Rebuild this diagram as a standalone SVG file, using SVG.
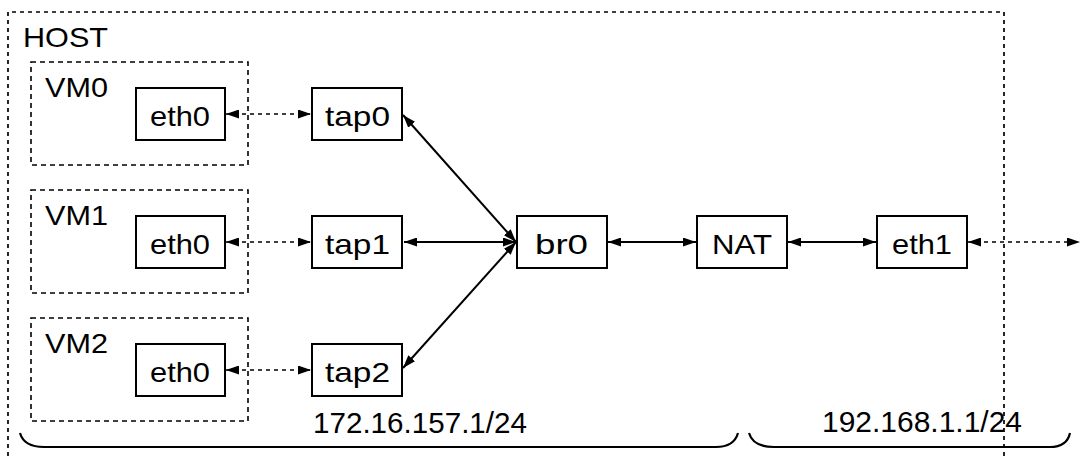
<svg xmlns="http://www.w3.org/2000/svg" width="1090" height="456" viewBox="0 0 1090 456">
<style>
.bg{fill:#fff}
.host{fill:none;stroke:#000;stroke-width:1.7;stroke-dasharray:4 4}
.vm{fill:none;stroke:#000;stroke-width:1.6;stroke-dasharray:5 4}
.box{fill:#fff;stroke:#000;stroke-width:2}
.lbl{font-family:"Liberation Sans",Arial,sans-serif;font-size:28px;fill:#000}
.ctr{text-anchor:middle}
.net{font-family:"Liberation Sans",Arial,sans-serif;font-size:29px;fill:#000}
.ln{fill:none;stroke:#000;stroke-width:2}
.dl{fill:none;stroke:#000;stroke-width:1.7;stroke-dasharray:4 4}
.brace{fill:none;stroke:#000;stroke-width:2.2}
</style>
<defs>
<marker id="ah" viewBox="0 0 13 9" refX="13" refY="4.5" markerWidth="13" markerHeight="9" markerUnits="userSpaceOnUse" orient="auto-start-reverse">
<path d="M0,0 L13,4.5 L0,9 z" fill="#000"/>
</marker>
</defs>
<rect class="bg" x="0" y="0" width="1090" height="456"/>
<g id="host">
<path class="host" d="M8,456 V12 H1004 V456"/>
<text class="lbl" x="23" y="47" textLength="85" lengthAdjust="spacingAndGlyphs">HOST</text>
</g>
<g id="vm0">
<rect class="vm" x="31" y="62" width="217" height="103"/>
<text class="lbl" x="45" y="97" textLength="63" lengthAdjust="spacingAndGlyphs">VM0</text>
</g>
<g id="vm1">
<rect class="vm" x="31" y="190" width="217" height="103"/>
<text class="lbl" x="45" y="225" textLength="63" lengthAdjust="spacingAndGlyphs">VM1</text>
</g>
<g id="vm2">
<rect class="vm" x="31" y="318" width="217" height="103"/>
<text class="lbl" x="45" y="353" textLength="63" lengthAdjust="spacingAndGlyphs">VM2</text>
</g>
<g id="vm0-eth0">
<rect class="box" x="136" y="88" width="89" height="52"/>
<text class="lbl" x="150" y="126" textLength="60" lengthAdjust="spacingAndGlyphs">eth0</text>
</g>
<g id="vm1-eth0">
<rect class="box" x="136" y="216" width="89" height="52"/>
<text class="lbl" x="150" y="254" textLength="60" lengthAdjust="spacingAndGlyphs">eth0</text>
</g>
<g id="vm2-eth0">
<rect class="box" x="136" y="344" width="89" height="52"/>
<text class="lbl" x="150" y="382" textLength="60" lengthAdjust="spacingAndGlyphs">eth0</text>
</g>
<g id="tap0">
<rect class="box" x="312" y="88" width="90" height="52"/>
<text class="lbl" x="325" y="126" textLength="65" lengthAdjust="spacingAndGlyphs">tap0</text>
</g>
<g id="tap1">
<rect class="box" x="312" y="216" width="90" height="52"/>
<text class="lbl" x="325" y="254" textLength="65" lengthAdjust="spacingAndGlyphs">tap1</text>
</g>
<g id="tap2">
<rect class="box" x="312" y="344" width="90" height="52"/>
<text class="lbl" x="325" y="382" textLength="65" lengthAdjust="spacingAndGlyphs">tap2</text>
</g>
<g id="br0">
<rect class="box" x="517" y="216" width="90" height="52"/>
<text class="lbl" x="535" y="254" textLength="53" lengthAdjust="spacingAndGlyphs">br0</text>
</g>
<g id="nat">
<rect class="box" x="697" y="216" width="90" height="52"/>
<text class="lbl" x="712" y="254" textLength="60" lengthAdjust="spacingAndGlyphs">NAT</text>
</g>
<g id="eth1">
<rect class="box" x="877" y="216" width="90" height="52"/>
<text class="lbl" x="892" y="254" textLength="60" lengthAdjust="spacingAndGlyphs">eth1</text>
</g>
<g id="connectors">
<line class="dl" x1="226" y1="114" x2="311" y2="114" marker-start="url(#ah)" marker-end="url(#ah)"/>
<line class="dl" x1="226" y1="242" x2="311" y2="242" marker-start="url(#ah)" marker-end="url(#ah)"/>
<line class="dl" x1="226" y1="370" x2="311" y2="370" marker-start="url(#ah)" marker-end="url(#ah)"/>
<line class="ln" x1="403" y1="115" x2="516" y2="242" marker-start="url(#ah)" marker-end="url(#ah)"/>
<line class="ln" x1="404" y1="242" x2="516" y2="242" marker-start="url(#ah)" marker-end="url(#ah)"/>
<line class="ln" x1="403" y1="368" x2="516" y2="242" marker-start="url(#ah)" marker-end="url(#ah)"/>
<line class="ln" x1="608" y1="242" x2="696" y2="242" marker-start="url(#ah)" marker-end="url(#ah)"/>
<line class="ln" x1="788" y1="242" x2="876" y2="242" marker-start="url(#ah)" marker-end="url(#ah)"/>
<line class="dl" x1="968" y1="242" x2="1080" y2="242" marker-start="url(#ah)" marker-end="url(#ah)"/>
</g>
<g id="subnets">
<path class="brace" d="M20,433 Q24,447 44,447 H716 Q734,447 738,433"/>
<path class="brace" d="M749,433 Q753,447 774,447 H1050 Q1067,447 1070,433"/>
<text class="net" x="313" y="433" textLength="214" lengthAdjust="spacingAndGlyphs">172.16.157.1/24</text>
<text class="net" x="822" y="432" textLength="200" lengthAdjust="spacingAndGlyphs">192.168.1.1/24</text>
</g>
</svg>
